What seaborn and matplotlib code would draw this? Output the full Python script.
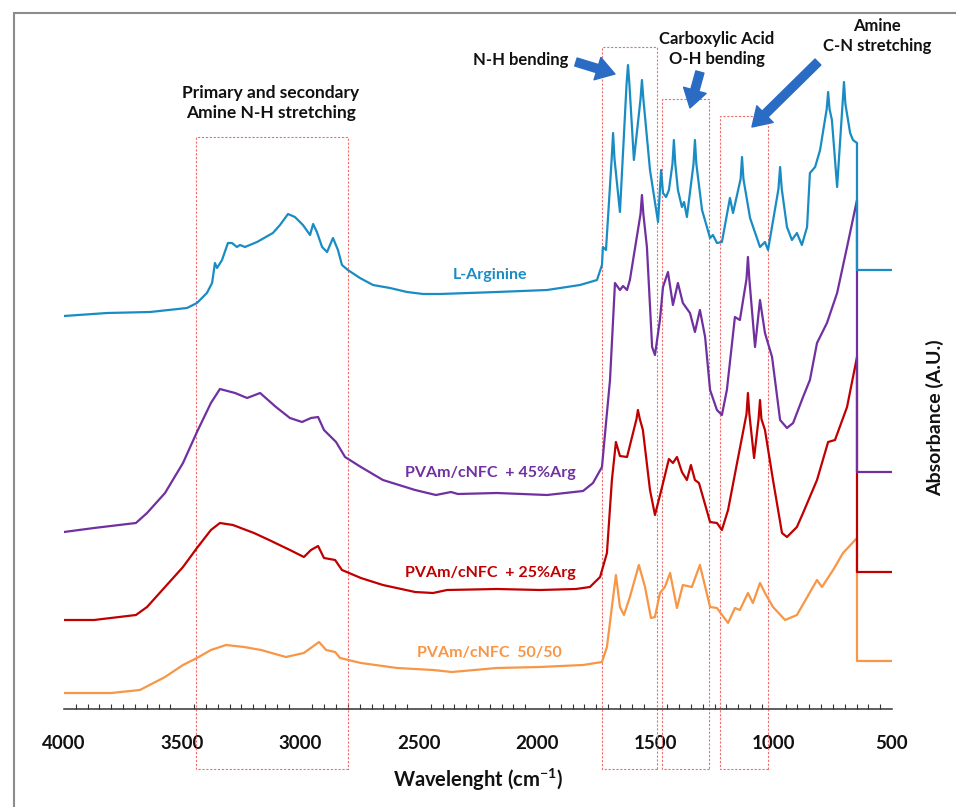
import matplotlib
matplotlib.use("Agg")
import matplotlib.pyplot as plt
from matplotlib.patches import Rectangle
from matplotlib.ticker import MultipleLocator
import pandas as pd
import seaborn as sns

# ---- FTIR spectra (wavenumber in cm-1, absorbance in A.U., stacked with offsets) ----
wn_arg = [4000, 3818, 3636, 3480, 3438, 3396, 3374, 3362, 3353, 3332, 3307, 3290, 3269, 3256, 3235,
          3184, 3117, 3087, 3053, 3024, 2990, 2960, 2947, 2931, 2909, 2888, 2863, 2842, 2825, 2800,
          2749, 2694, 2622, 2550, 2482, 2411, 2170, 1958, 1819, 1747, 1726, 1722, 1709, 1685, 1679,
          1673, 1650, 1622, 1616, 1610, 1591, 1563, 1557, 1551, 1523, 1489, 1476, 1468, 1455, 1443,
          1428, 1422, 1416, 1405, 1388, 1379, 1367, 1339, 1333, 1327, 1303, 1269, 1257, 1240, 1219,
          1185, 1172, 1140, 1134, 1128, 1100, 1058, 1037, 1024, 980, 973, 966, 944, 923, 902,
          881, 859, 847, 825, 804, 776, 770, 764, 754, 732, 709, 703, 697, 677, 665,
          648, 648, 500]
abs_arg = [3.93, 3.96, 3.97, 4.01, 4.06, 4.16, 4.26, 4.46, 4.41, 4.49, 4.66, 4.66, 4.62, 4.64, 4.62,
           4.67, 4.76, 4.84, 4.95, 4.92, 4.84, 4.74, 4.85, 4.77, 4.62, 4.57, 4.71, 4.59, 4.44, 4.39,
           4.31, 4.24, 4.21, 4.17, 4.15, 4.15, 4.17, 4.19, 4.24, 4.29, 4.44, 4.62, 4.59, 5.50, 5.76,
           5.50, 4.97, 6.25, 6.44, 6.25, 5.49, 6.10, 6.29, 6.10, 5.39, 4.87, 5.39, 5.16, 5.12, 5.19,
           5.45, 5.69, 5.45, 5.19, 5.02, 5.07, 4.92, 5.45, 5.69, 5.45, 4.99, 4.71, 4.74, 4.66, 4.67,
           5.11, 4.96, 5.30, 5.52, 5.30, 4.91, 4.62, 4.67, 4.59, 5.20, 5.42, 5.20, 4.82, 4.69, 4.76,
           4.64, 4.82, 5.36, 5.42, 5.59, 6.00, 6.17, 6.00, 5.89, 5.22, 6.05, 6.27, 6.05, 5.76, 5.69,
           5.66, 4.39, 4.39]

wn_45 = [4000, 3873, 3696, 3649, 3573, 3497, 3438, 3379, 3341, 3277, 3226, 3171, 3104, 3045, 2994,
         2956, 2926, 2901, 2850, 2812, 2745, 2652, 2516, 2428, 2364, 2335, 2170, 1958, 1806, 1764,
         1726, 1705, 1692, 1671, 1650, 1637, 1620, 1608, 1563, 1557, 1551, 1536, 1514, 1502, 1481,
         1468, 1447, 1426, 1405, 1384, 1354, 1333, 1312, 1290, 1269, 1240, 1219, 1198, 1164, 1143,
         1115, 1109, 1103, 1079, 1058, 1037, 1007, 973, 944, 918, 876, 847, 817, 775, 732,
         690, 648, 648, 500]
abs_45 = [1.77, 1.81, 1.86, 1.96, 2.16, 2.46, 2.77, 3.06, 3.20, 3.16, 3.11, 3.16, 3.02, 2.91, 2.87,
          2.91, 2.92, 2.79, 2.67, 2.52, 2.42, 2.29, 2.19, 2.14, 2.17, 2.15, 2.16, 2.14, 2.18, 2.26,
          2.42, 2.96, 3.29, 4.26, 4.19, 4.23, 4.19, 4.29, 4.95, 5.14, 4.95, 4.62, 3.62, 3.54, 3.89,
          4.22, 4.37, 4.04, 4.26, 4.06, 3.96, 3.77, 3.99, 3.72, 3.19, 2.99, 2.94, 3.19, 3.92, 3.89,
          4.30, 4.52, 4.30, 3.62, 4.09, 3.76, 3.52, 2.89, 2.81, 2.86, 3.12, 3.29, 3.66, 3.86, 4.16,
          4.62, 5.09, 2.37, 2.37]

wn_25 = [4000, 3873, 3696, 3649, 3573, 3497, 3438, 3379, 3341, 3286, 3197, 3133, 3045, 2986, 2956,
         2926, 2901, 2854, 2825, 2745, 2652, 2516, 2440, 2381, 2170, 1988, 1836, 1777, 1734, 1705,
         1684, 1667, 1650, 1620, 1580, 1574, 1566, 1553, 1523, 1502, 1472, 1443, 1426, 1409, 1388,
         1367, 1350, 1333, 1316, 1269, 1240, 1219, 1193, 1155, 1115, 1109, 1103, 1083, 1064, 1058,
         1052, 1037, 1003, 965, 944, 902, 876, 817, 770, 741, 690, 648, 648, 500]
abs_25 = [0.89, 0.89, 0.94, 1.02, 1.22, 1.42, 1.61, 1.79, 1.86, 1.84, 1.76, 1.69, 1.59, 1.52, 1.59,
          1.63, 1.51, 1.49, 1.39, 1.31, 1.24, 1.17, 1.16, 1.19, 1.20, 1.19, 1.20, 1.22, 1.32, 1.56,
          2.29, 2.67, 2.53, 2.52, 2.90, 2.99, 2.90, 2.79, 2.19, 1.94, 2.22, 2.50, 2.46, 2.52, 2.37,
          2.29, 2.44, 2.29, 2.26, 1.87, 1.86, 1.79, 1.99, 2.46, 2.95, 3.16, 2.95, 2.51, 2.90, 3.09,
          2.90, 2.79, 2.29, 1.76, 1.72, 1.82, 1.96, 2.29, 2.67, 2.69, 3.02, 3.52, 1.37, 1.37]

wn_50 = [4000, 3801, 3679, 3573, 3497, 3438, 3379, 3315, 3239, 3167, 3062, 2986, 2922, 2892, 2854,
         2833, 2745, 2592, 2440, 2360, 2170, 1988, 1806, 1726, 1705, 1684, 1667, 1650, 1633, 1608,
         1570, 1544, 1519, 1502, 1481, 1460, 1438, 1409, 1384, 1346, 1312, 1269, 1240, 1193, 1164,
         1143, 1109, 1088, 1058, 1037, 1003, 952, 902, 817, 796, 749, 707, 648, 648, 500]
abs_50 = [0.16, 0.16, 0.19, 0.32, 0.44, 0.51, 0.59, 0.64, 0.62, 0.59, 0.52, 0.56, 0.67, 0.59, 0.57,
          0.51, 0.46, 0.41, 0.39, 0.37, 0.41, 0.42, 0.44, 0.47, 0.62, 1.02, 1.34, 1.02, 0.94, 1.12,
          1.44, 1.22, 0.91, 0.92, 1.16, 1.22, 1.36, 1.01, 1.24, 1.22, 1.44, 1.02, 1.01, 0.86, 1.01,
          0.99, 1.16, 1.06, 1.26, 1.16, 1.02, 0.89, 0.94, 1.29, 1.22, 1.39, 1.56, 1.71, 0.48, 0.48]

sample_names = ["PVAm/cNFC  50/50", "PVAm/cNFC  + 25%Arg", "PVAm/cNFC  + 45%Arg", "L-Arginine"]
sample_colors = ["#f79646", "#c00000", "#7030a0", "#1a8cc4"]
sample_wn = [wn_50, wn_25, wn_45, wn_arg]
sample_abs = [abs_50, abs_25, abs_45, abs_arg]
# label anchor (wavenumber, absorbance) for each curve name
label_wn = [2203, 2199, 2199, 2199]
label_abs = [0.56, 1.36, 2.36, 4.34]

# highlighted absorption bands: (high wn, low wn, top of box)
band_hi = [3440, 1726, 1472, 1227]
band_lo = [2800, 1493, 1273, 1024]
band_top = [5.72, 6.62, 6.10, 5.93]
band_bottom = -0.60

sns.set_theme(style="white")
plt.rcParams["font.family"] = ["Lato", "DejaVu Sans"]
plt.rcParams["font.weight"] = "bold"

fig = plt.figure(figsize=(9.56, 8.07), dpi=100)
ax = fig.add_axes([64 / 956, 98 / 807, 828 / 956, 689 / 807])

frames = []
for name, wn, ab in zip(sample_names, sample_wn, sample_abs):
    frames.append(pd.DataFrame({"wavenumber": wn, "absorbance": ab, "sample": name}))
df = pd.concat(frames, ignore_index=True)

for i, (name, color) in enumerate(zip(sample_names, sample_colors)):
    sub = df[df["sample"] == name]
    sns.lineplot(data=sub, x="wavenumber", y="absorbance", sort=False, estimator=None,
                 color=color, linewidth=1.6, ax=ax, zorder=3 + i)
    ax.text(label_wn[i], label_abs[i], name, color=color, fontsize=11.5, fontweight="bold",
            ha="center", va="center", zorder=10)

# dashed boxes around the characteristic bands
for hi, lo, top in zip(band_hi, band_lo, band_top):
    ax.add_patch(Rectangle((lo, band_bottom), hi - lo, top - band_bottom, fill=False,
                           edgecolor="#f26d6d", linewidth=0.8, linestyle=(0, (2, 1.5)),
                           clip_on=False, zorder=2))

ax.set_xlim(4000, 500)
ax.set_ylim(0, 6.89)
ax.set_yticks([])
for side in ["left", "right", "top"]:
    ax.spines[side].set_visible(False)
ax.spines["bottom"].set_color("#333333")
ax.spines["bottom"].set_linewidth(1.1)
ax.xaxis.set_major_locator(MultipleLocator(500))
ax.xaxis.set_minor_locator(MultipleLocator(50))
ax.tick_params(axis="x", which="major", direction="inout", length=8, width=1.0,
               color="#333333", pad=14.5, labelsize=13.5, labelcolor="#111111")
ax.tick_params(axis="x", which="minor", direction="in", length=3.5, width=0.8,
               color="#333333", bottom=True)
for lbl in ax.get_xticklabels():
    lbl.set_fontweight("bold")
ax.set_xlabel(r"Wavelenght (cm$^{\mathregular{-1}}$)", fontsize=14.5, fontweight="bold",
              labelpad=11, color="#111111")
ax.set_ylabel("")

# band annotations
txt = dict(fontsize=12, fontweight="bold", color="#111111", ha="center", va="center")
ax.text(3125, 6.06, "Primary and secondary\nAmine N-H stretching", linespacing=1.3,
        **{**txt, "fontsize": 12.5})
ax.text(2068, 6.49, "N-H bending", **txt)
ax.text(1240, 6.60, "Carboxylic Acid\nO-H bending", linespacing=1.35, **txt)
ax.text(563, 6.73, "Amine\nC-N stretching", linespacing=1.35, **txt)

arrow = dict(arrowstyle="simple,head_width=1.4,head_length=1.1,tail_width=0.5",
             color="#2a6cc4", shrinkA=0, shrinkB=0)
ax.annotate("", xy=(1671, 6.35), xytext=(1836, 6.47), arrowprops=arrow, zorder=12)
ax.annotate("", xy=(1354, 6.01), xytext=(1312, 6.37), arrowprops=arrow, zorder=12)
ax.annotate("", xy=(1092, 5.82), xytext=(813, 6.47), arrowprops=arrow, zorder=12)

fig.text(935 / 956, 1 - 418 / 807, "Absorbance (A.U.)", rotation=90, fontsize=14,
         fontweight="bold", ha="center", va="center", color="#111111")

# outer frame of the figure
fig.add_artist(Rectangle((14 / 956, -0.02), 1.0, 1 - 13 / 807 + 0.02, transform=fig.transFigure,
                         fill=False, edgecolor="#8c8c8c", linewidth=1.5))

fig.savefig("out.png", dpi=100, facecolor="white")
